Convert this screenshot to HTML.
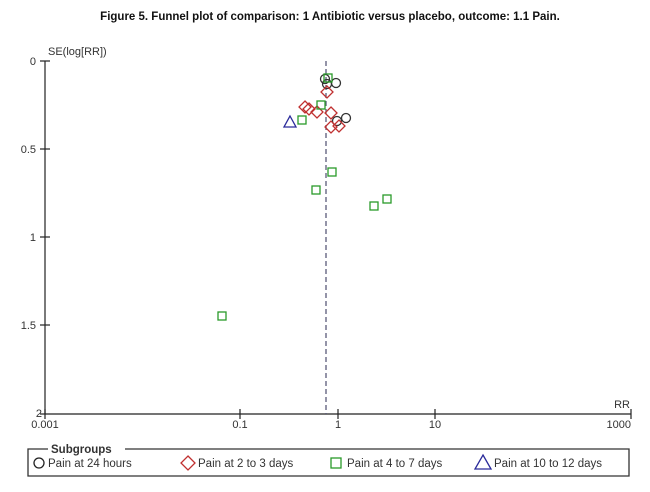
<!DOCTYPE html>
<html><head><meta charset="utf-8"><style>
html,body{margin:0;padding:0;background:#fff;}
svg{display:block;}
text{font-family:"Liberation Sans",sans-serif;}
</style></head><body>
<svg width="650" height="492" viewBox="0 0 650 492" xmlns="http://www.w3.org/2000/svg">
<text x="330" y="20" text-anchor="middle" font-size="11.5" font-weight="bold" fill="#111">Figure 5.   Funnel plot of comparison: 1 Antibiotic versus placebo, outcome: 1.1 Pain.</text>
<g stroke="#222" stroke-width="1.2" fill="none">
<line x1="45" y1="61" x2="45" y2="414"/>
<line x1="45" y1="414" x2="631" y2="414"/>
<line x1="40" y1="61" x2="50" y2="61"/>
<line x1="40" y1="149" x2="50" y2="149"/>
<line x1="40" y1="237" x2="50" y2="237"/>
<line x1="40" y1="325" x2="50" y2="325"/>
<line x1="40" y1="414" x2="45" y2="414"/>
<line x1="45" y1="409" x2="45" y2="419"/>
<line x1="240" y1="409" x2="240" y2="419"/>
<line x1="338" y1="409" x2="338" y2="419"/>
<line x1="435" y1="409" x2="435" y2="419"/>
<line x1="631" y1="409" x2="631" y2="419"/>
</g>
<g font-size="11" fill="#333">
<text x="36" y="65" text-anchor="end">0</text>
<text x="36" y="153" text-anchor="end">0.5</text>
<text x="36" y="241" text-anchor="end">1</text>
<text x="36" y="329" text-anchor="end">1.5</text>
<text x="42" y="417" text-anchor="end">2</text>
<text x="48" y="55">SE(log[RR])</text>
<text x="45" y="428" text-anchor="middle">0.001</text>
<text x="240" y="428" text-anchor="middle">0.1</text>
<text x="338" y="428" text-anchor="middle">1</text>
<text x="435" y="428" text-anchor="middle">10</text>
<text x="631" y="428" text-anchor="end">1000</text>
<text x="630" y="408" text-anchor="end">RR</text>
</g>
<line x1="326" y1="61" x2="326" y2="414" stroke="#5a5a7a" stroke-width="1.3" stroke-dasharray="5,3"/>
<g fill="none" stroke-width="1.3">
<g stroke="#333">
<circle cx="325" cy="79" r="4.5"/><circle cx="336" cy="83" r="4.5"/><circle cx="327" cy="84" r="4.5"/>
<circle cx="346" cy="118" r="4.5"/><circle cx="337" cy="121" r="4.5"/>
</g>
<g stroke="#c03030">
<path d="M327 86 l6 6 l-6 6 l-6 -6z"/>
<path d="M305 101 l6 6 l-6 6 l-6 -6z"/>
<path d="M309 103 l6 6 l-6 6 l-6 -6z"/>
<path d="M317 106 l6 6 l-6 6 l-6 -6z"/>
<path d="M331 107 l6 6 l-6 6 l-6 -6z"/>
<path d="M331 121 l6 6 l-6 6 l-6 -6z"/>
<path d="M339 120 l6 6 l-6 6 l-6 -6z"/>
</g>
<g stroke="#2a9a2a">
<rect x="324" y="74" width="8" height="8"/>
<rect x="317" y="101" width="8" height="8"/>
<rect x="298" y="116" width="8" height="8"/>
<rect x="328" y="168" width="8" height="8"/>
<rect x="312" y="186" width="8" height="8"/>
<rect x="370" y="202" width="8" height="8"/>
<rect x="383" y="195" width="8" height="8"/>
<rect x="218" y="312" width="8" height="8"/>
</g>
<path d="M290 116 l6 11 l-12 0z" stroke="#2a2a9a"/>
</g>
<g>
<path d="M48 449 L28 449 L28 476 L629 476 L629 449 L125 449" fill="none" stroke="#333" stroke-width="1.3"/>
<text x="51" y="453" font-size="11.5" font-weight="bold" fill="#333">Subgroups</text>
<g font-size="11.5" fill="#333">
<circle cx="39" cy="463" r="5" fill="none" stroke="#222" stroke-width="1.3"/>
<text x="48" y="467">Pain at 24 hours</text>
<path d="M188 456 l7 7 l-7 7 l-7 -7z" fill="none" stroke="#c03030" stroke-width="1.3"/>
<text x="198" y="467">Pain at 2 to 3 days</text>
<rect x="331" y="458" width="10" height="10" fill="none" stroke="#2a9a2a" stroke-width="1.3"/>
<text x="347" y="467">Pain at 4 to 7 days</text>
<path d="M483 455 l8 14 l-16 0z" fill="none" stroke="#2a2a9a" stroke-width="1.3"/>
<text x="494" y="467">Pain at 10 to 12 days</text>
</g>
</g>
</svg>
</body></html>
